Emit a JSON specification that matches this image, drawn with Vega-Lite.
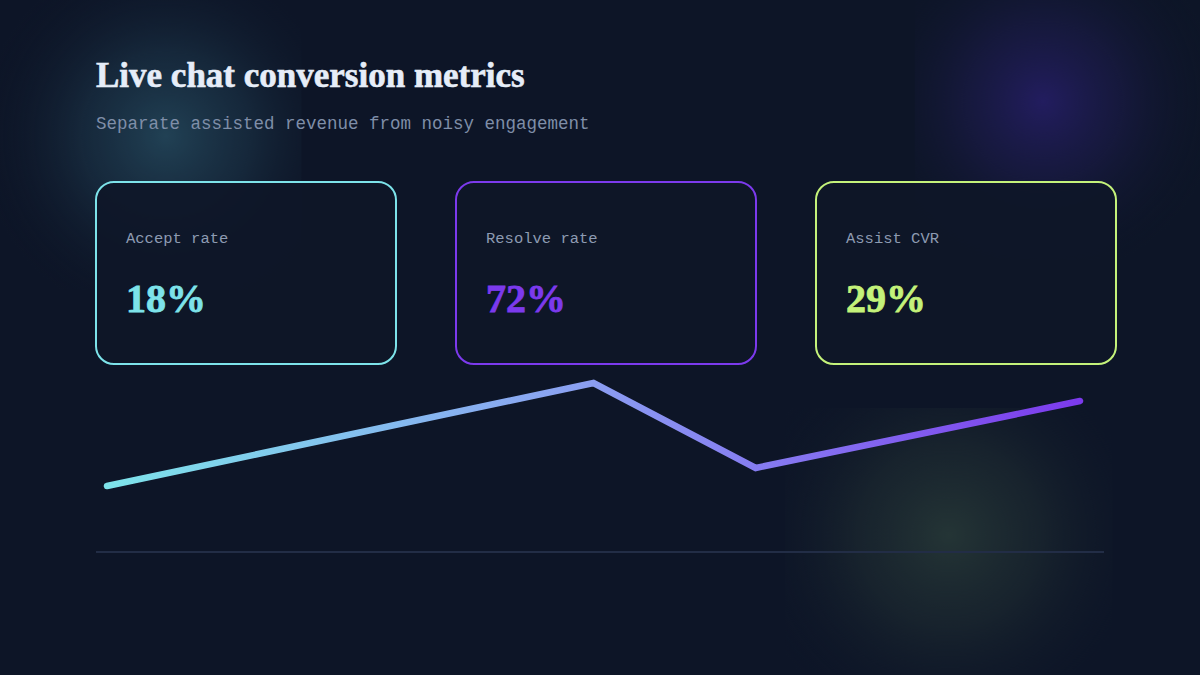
{
  "$schema": "https://vega.github.io/schema/vega-lite/v6.json",
  "autosize": {"type": "fit", "contains": "padding"},
  "width": 1200,
  "height": 675,
  "padding": 0,
  "background": "#0d1527",
  "config": {
    "view": {"stroke": null},
    "axis": {"disable": true}
  },
  "resolve": {"scale": {"x": "independent"}},
  "layer": [
    {
      "data": {"values": [{"anchor": "page"}]},
      "layer": [
        {
          "mark": {
            "type": "rect",
            "fill": {
              "gradient": "radial",
              "x1": 0.55, "y1": 0.47, "r1": 0,
              "x2": 0.55, "y2": 0.47, "r2": 0.62,
              "stops": [
                {"offset": 0, "color": "rgba(38,76,96,0.8)"},
                {"offset": 0.45, "color": "rgba(30,58,78,0.5)"},
                {"offset": 1, "color": "rgba(13,21,39,0)"}
              ]
            }
          },
          "encoding": {
            "x": {"datum": -0.6598, "type": "quantitative", "scale": {"domain": [-0.6598, 6.7399], "nice": false, "zero": false}},
            "x2": {"datum": 1.2},
            "y": {"datum": 276, "type": "quantitative", "scale": {"domain": [-61.5, 276], "nice": false, "zero": false}},
            "y2": {"datum": 131}
          }
        },
        {
          "mark": {
            "type": "rect",
            "fill": {
              "gradient": "radial",
              "x1": 0.45, "y1": 0.4, "r1": 0,
              "x2": 0.45, "y2": 0.4, "r2": 0.62,
              "stops": [
                {"offset": 0, "color": "rgba(38,30,105,0.85)"},
                {"offset": 0.45, "color": "rgba(30,28,80,0.5)"},
                {"offset": 1, "color": "rgba(13,21,39,0)"}
              ]
            }
          },
          "encoding": {
            "x": {"datum": 4.98, "type": "quantitative", "scale": {"domain": [-0.6598, 6.7399], "nice": false, "zero": false}},
            "x2": {"datum": 6.7399},
            "y": {"datum": 276, "type": "quantitative", "scale": {"domain": [-61.5, 276], "nice": false, "zero": false}},
            "y2": {"datum": 146}
          }
        },
        {
          "mark": {
            "type": "rect",
            "fill": {
              "gradient": "radial",
              "x1": 0.5, "y1": 0.48, "r1": 0,
              "x2": 0.5, "y2": 0.48, "r2": 0.62,
              "stops": [
                {"offset": 0, "color": "rgba(40,58,56,0.85)"},
                {"offset": 0.45, "color": "rgba(32,46,50,0.55)"},
                {"offset": 1, "color": "rgba(13,21,39,0)"}
              ]
            }
          },
          "encoding": {
            "x": {"datum": 4.18, "type": "quantitative", "scale": {"domain": [-0.6598, 6.7399], "nice": false, "zero": false}},
            "x2": {"datum": 6.2},
            "y": {"datum": 72, "type": "quantitative", "scale": {"domain": [-61.5, 276], "nice": false, "zero": false}},
            "y2": {"datum": -61.5}
          }
        },
        {
          "mark": {"type": "text", "text": "Live chat conversion metrics", "font": "Liberation Serif", "fontWeight": 900, "fontSize": 35, "color": "#e6edf8", "stroke": "#e6edf8", "strokeWidth": 0.6, "align": "left", "baseline": "alphabetic"},
          "encoding": {
            "x": {"datum": -0.0678, "type": "quantitative", "scale": {"domain": [-0.6598, 6.7399], "nice": false, "zero": false}},
            "y": {"datum": 232.5, "type": "quantitative", "scale": {"domain": [-61.5, 276], "nice": false, "zero": false}}
          }
        },
        {
          "mark": {"type": "text", "text": "Separate assisted revenue from noisy engagement", "font": "Liberation Mono", "fontSize": 17.5, "color": "#7f8ea8", "align": "left", "baseline": "alphabetic"},
          "encoding": {
            "x": {"datum": -0.0678, "type": "quantitative", "scale": {"domain": [-0.6598, 6.7399], "nice": false, "zero": false}},
            "y": {"datum": 211.5, "type": "quantitative", "scale": {"domain": [-61.5, 276], "nice": false, "zero": false}}
          }
        },
        {
          "mark": {"type": "rule", "color": "#222d46", "strokeWidth": 2},
          "encoding": {
            "x": {"datum": -0.0678, "type": "quantitative", "scale": {"domain": [-0.6598, 6.7399], "nice": false, "zero": false}},
            "x2": {"datum": 6.148},
            "y": {"datum": 0, "type": "quantitative", "scale": {"domain": [-61.5, 276], "nice": false, "zero": false}}
          }
        },
        {
          "data": {
            "values": [
              {"step": 0, "value": 33},
              {"step": 3, "value": 84.5},
              {"step": 4, "value": 42},
              {"step": 6, "value": 75.5}
            ]
          },
          "mark": {
            "type": "line",
            "strokeWidth": 6.5,
            "strokeCap": "round",
            "strokeJoin": "miter",
            "stroke": {
              "gradient": "linear",
              "x1": 0, "y1": 0, "x2": 1, "y2": 0,
              "stops": [
                {"offset": 0, "color": "#7de3ea"},
                {"offset": 0.5, "color": "#8b9ef2"},
                {"offset": 1, "color": "#7c3aed"}
              ]
            }
          },
          "encoding": {
            "x": {"field": "step", "type": "quantitative", "scale": {"domain": [-0.6598, 6.7399], "nice": false, "zero": false}},
            "y": {"field": "value", "type": "quantitative", "scale": {"domain": [-61.5, 276], "nice": false, "zero": false}}
          }
        }
      ]
    },
    {
      "data": {
        "values": [
          {"metric": "Accept rate", "rate": 0.18},
          {"metric": "Resolve rate", "rate": 0.72},
          {"metric": "Assist CVR", "rate": 0.29}
        ]
      },
      "layer": [
        {
          "mark": {"type": "rect", "cornerRadius": 18, "strokeWidth": 2, "fill": "#0e1628", "fillOpacity": 0.9},
          "encoding": {
            "x": {"field": "metric", "type": "nominal", "sort": null, "scale": {"type": "band", "paddingInner": 0.16667, "paddingOuter": 0.25, "align": 0.5333}},
            "y": {"datum": 185, "type": "quantitative", "scale": {"domain": [-61.5, 276], "nice": false, "zero": false}},
            "y2": {"datum": 94},
            "stroke": {"field": "metric", "type": "nominal", "scale": {"domain": ["Accept rate", "Resolve rate", "Assist CVR"], "range": ["#7de3ea", "#7c3aed", "#c4f27a"]}, "legend": null}
          }
        },
        {
          "mark": {"type": "text", "font": "Liberation Mono", "fontSize": 15.5, "color": "#8d9bb2", "align": "left", "baseline": "alphabetic", "dx": 30},
          "encoding": {
            "x": {"field": "metric", "type": "nominal", "sort": null, "bandPosition": 0, "scale": {"type": "band", "paddingInner": 0.16667, "paddingOuter": 0.25, "align": 0.5333}},
            "y": {"datum": 154.5, "type": "quantitative", "scale": {"domain": [-61.5, 276], "nice": false, "zero": false}},
            "text": {"field": "metric"}
          }
        },
        {
          "mark": {"type": "text", "font": "Liberation Serif", "fontWeight": 900, "fontSize": 40, "strokeWidth": 0.8, "align": "left", "baseline": "alphabetic", "dx": 30},
          "encoding": {
            "x": {"field": "metric", "type": "nominal", "sort": null, "bandPosition": 0, "scale": {"type": "band", "paddingInner": 0.16667, "paddingOuter": 0.25, "align": 0.5333}},
            "y": {"datum": 120, "type": "quantitative", "scale": {"domain": [-61.5, 276], "nice": false, "zero": false}},
            "text": {"field": "rate", "type": "quantitative", "format": ".0%"},
            "color": {"field": "metric", "type": "nominal", "scale": {"domain": ["Accept rate", "Resolve rate", "Assist CVR"], "range": ["#7de3ea", "#7c3aed", "#c4f27a"]}, "legend": null},
            "stroke": {"field": "metric", "type": "nominal", "scale": {"domain": ["Accept rate", "Resolve rate", "Assist CVR"], "range": ["#7de3ea", "#7c3aed", "#c4f27a"]}, "legend": null}
          }
        }
      ]
    }
  ]
}
